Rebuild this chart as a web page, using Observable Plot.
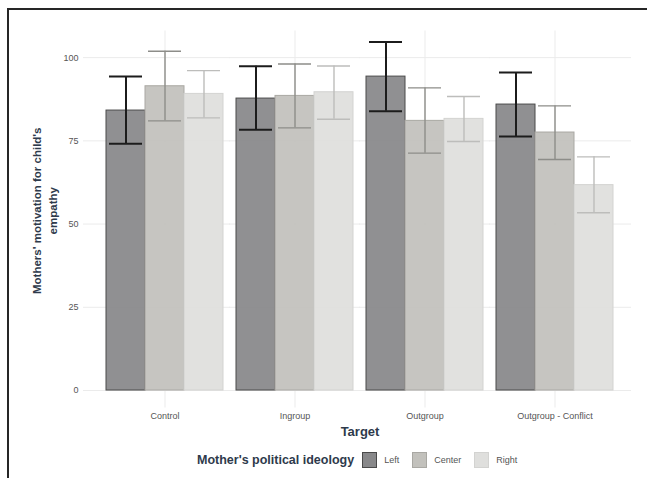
<!DOCTYPE html>
<html>
<head>
<meta charset="utf-8">
<script src="https://cdn.jsdelivr.net/npm/d3@7"></script>
<script src="https://cdn.jsdelivr.net/npm/@observablehq/plot@0.6"></script>
<style>
  html, body { margin: 0; padding: 0; background: #fff; overflow: hidden; width: 647px; height: 478px; }
  #page { position: relative; width: 647px; height: 478px; font-family: "Liberation Sans", Arial, sans-serif; }
  #border { position: absolute; left: 7px; top: 8px; width: 700px; height: 520px;
            border-left: 2px solid #262626; border-top: 2px solid #262626; pointer-events: none; }
  #chart { position: absolute; left: 0; top: 0; }
  #chart svg { font-family: "Liberation Sans", Arial, sans-serif; }
  #chart g[aria-label="y-axis tick label"] text,
  #chart g[aria-label="fx-axis tick label"] text { font-size: 9px; fill: #555; }
  #chart g[aria-label="fx-axis label"] text { font-size: 13px; font-weight: bold; fill: #2e3a4b; }
  #legend { position: absolute; left: 197px; top: 452px; display: flex; align-items: center; height: 16px; }
  #legend .title { font-size: 12.5px; font-weight: bold; color: #2e3a4b; margin-right: 8px; }
  #legend .sw { width: 13px; height: 14px; border: 1px solid; margin-right: 7px; }
  #legend .lab { font-size: 9px; color: #555; margin-right: 13px; }
</style>
</head>
<body>
<div id="page">
  <div id="chart"></div>
  <div id="legend"></div>
  <div id="border"></div>
</div>
<script>
// Targets on the x axis and the three ideology groups within each
const targets = ["Control", "Ingroup", "Outgroup", "Outgroup - Conflict"];
const ideologies = ["Left", "Center", "Right"];

// Mean motivation per target, one array per ideology
const meanLeft   = [84.1, 87.7, 94.3, 85.9];
const meanCenter = [91.4, 88.5, 81.0, 77.5];
const meanRight  = [89.1, 89.6, 81.6, 61.7];

// Error bar bounds
const lowLeft    = [74.1, 78.3, 83.9, 76.3];
const highLeft   = [94.3, 97.4, 104.7, 95.5];
const lowCenter  = [81.0, 78.9, 71.3, 69.4];
const highCenter = [101.9, 98.1, 90.9, 85.5];
const lowRight   = [81.9, 81.5, 74.8, 53.4];
const highRight  = [96.1, 97.5, 88.3, 70.2];

const yTicks = [0, 25, 50, 75, 100];
const yTitle = "Mothers' motivation for child's\nempathy";
const xTitle = "Target";
const legendTitle = "Mother's political ideology";

// Palette per ideology (fill, outline, error bar)
const fillColors = ["#88888a", "#c2c1bc", "#dfdfdd"];
const edgeColors = ["#4a4a4a", "#a9a8a3", "#d3d3d1"];
const errColors  = ["#1c1c1c", "#8d8d89", "#bdbdbb"];
const errWidths  = [2, 1.4, 1.4];
const gridColor = "#ebebeb";

const means = [meanLeft, meanCenter, meanRight];
const lows = [lowLeft, lowCenter, lowRight];
const highs = [highLeft, highCenter, highRight];

const rows = ideologies.flatMap((ideology, k) =>
  targets.map((target, i) => ({target, ideology, mean: means[k][i], lo: lows[k][i], hi: highs[k][i]}))
);
const colorOf = (arr) => (d) => arr[ideologies.indexOf(d.ideology)];

// Horizontal grid, drawn per facet and stretched across the gaps between facets
const gridRows = targets.flatMap(target => yTicks.map(y => ({target, y})));
const last = targets.length - 1;
const gridMarks = [
  Plot.ruleY(gridRows.filter(d => d.target === targets[0]), {fx: "target", y: "y", stroke: gridColor, insetLeft: -23, insetRight: -7}),
  Plot.ruleY(gridRows.filter(d => d.target !== targets[0] && d.target !== targets[last]), {fx: "target", y: "y", stroke: gridColor, insetLeft: -7, insetRight: -7}),
  Plot.ruleY(gridRows.filter(d => d.target === targets[last]), {fx: "target", y: "y", stroke: gridColor, insetLeft: -7, insetRight: -18})
];

const errorMarks = ideologies.flatMap((ideology, k) => {
  const sub = rows.filter(d => d.ideology === ideology);
  return [
    Plot.ruleX(sub, {fx: "target", x: "ideology", y1: "lo", y2: "hi", stroke: errColors[k], strokeWidth: errWidths[k]}),
    Plot.tickY(sub, {fx: "target", x: "ideology", y: "lo", stroke: errColors[k], strokeWidth: errWidths[k], inset: 3}),
    Plot.tickY(sub, {fx: "target", x: "ideology", y: "hi", stroke: errColors[k], strokeWidth: errWidths[k], inset: 3})
  ];
});

const chart = Plot.plot({
  width: 647,
  height: 445,
  marginLeft: 85,
  marginRight: 13,
  marginTop: 23,
  marginBottom: 37.5,
  fx: {domain: targets, paddingInner: 0.1, paddingOuter: 0.156},
  x: {domain: ideologies, padding: 0, axis: null},
  y: {domain: [-5.25, 110.25]},
  color: {type: "identity"},
  marks: [
    ...gridMarks,
    Plot.ruleX(["Center"], {x: d => d, y1: -5.25, y2: 108, stroke: gridColor}),
    Plot.axisY(yTicks, {tickSize: 0, tickPadding: 28, label: null}),
    Plot.axisFx({anchor: "bottom", tickSize: 0, tickPadding: 5, label: xTitle, labelAnchor: "center", labelOffset: 28}),
    Plot.barY(rows, {fx: "target", x: "ideology", y: "mean", fill: colorOf(fillColors), stroke: colorOf(edgeColors), strokeWidth: 1, fillOpacity: 0.93}),
    ...errorMarks,
    Plot.text([yTitle], {text: d => d, facet: "super", frameAnchor: "left", rotate: -90, dx: -63, dy: -5,
      fontSize: 11.5, fontWeight: "bold", fill: "#2e3a4b", lineHeight: 1.4, textAnchor: "middle"})
  ]
});
document.getElementById("chart").appendChild(chart);

// Legend built from the same ideology palette
const legend = document.getElementById("legend");
const t = document.createElement("span");
t.className = "title";
t.textContent = legendTitle;
legend.appendChild(t);
ideologies.forEach((name, k) => {
  const sw = document.createElement("span");
  sw.className = "sw";
  sw.style.background = fillColors[k];
  sw.style.borderColor = edgeColors[k];
  legend.appendChild(sw);
  const lab = document.createElement("span");
  lab.className = "lab";
  lab.textContent = name;
  legend.appendChild(lab);
});
</script>
</body>
</html>
